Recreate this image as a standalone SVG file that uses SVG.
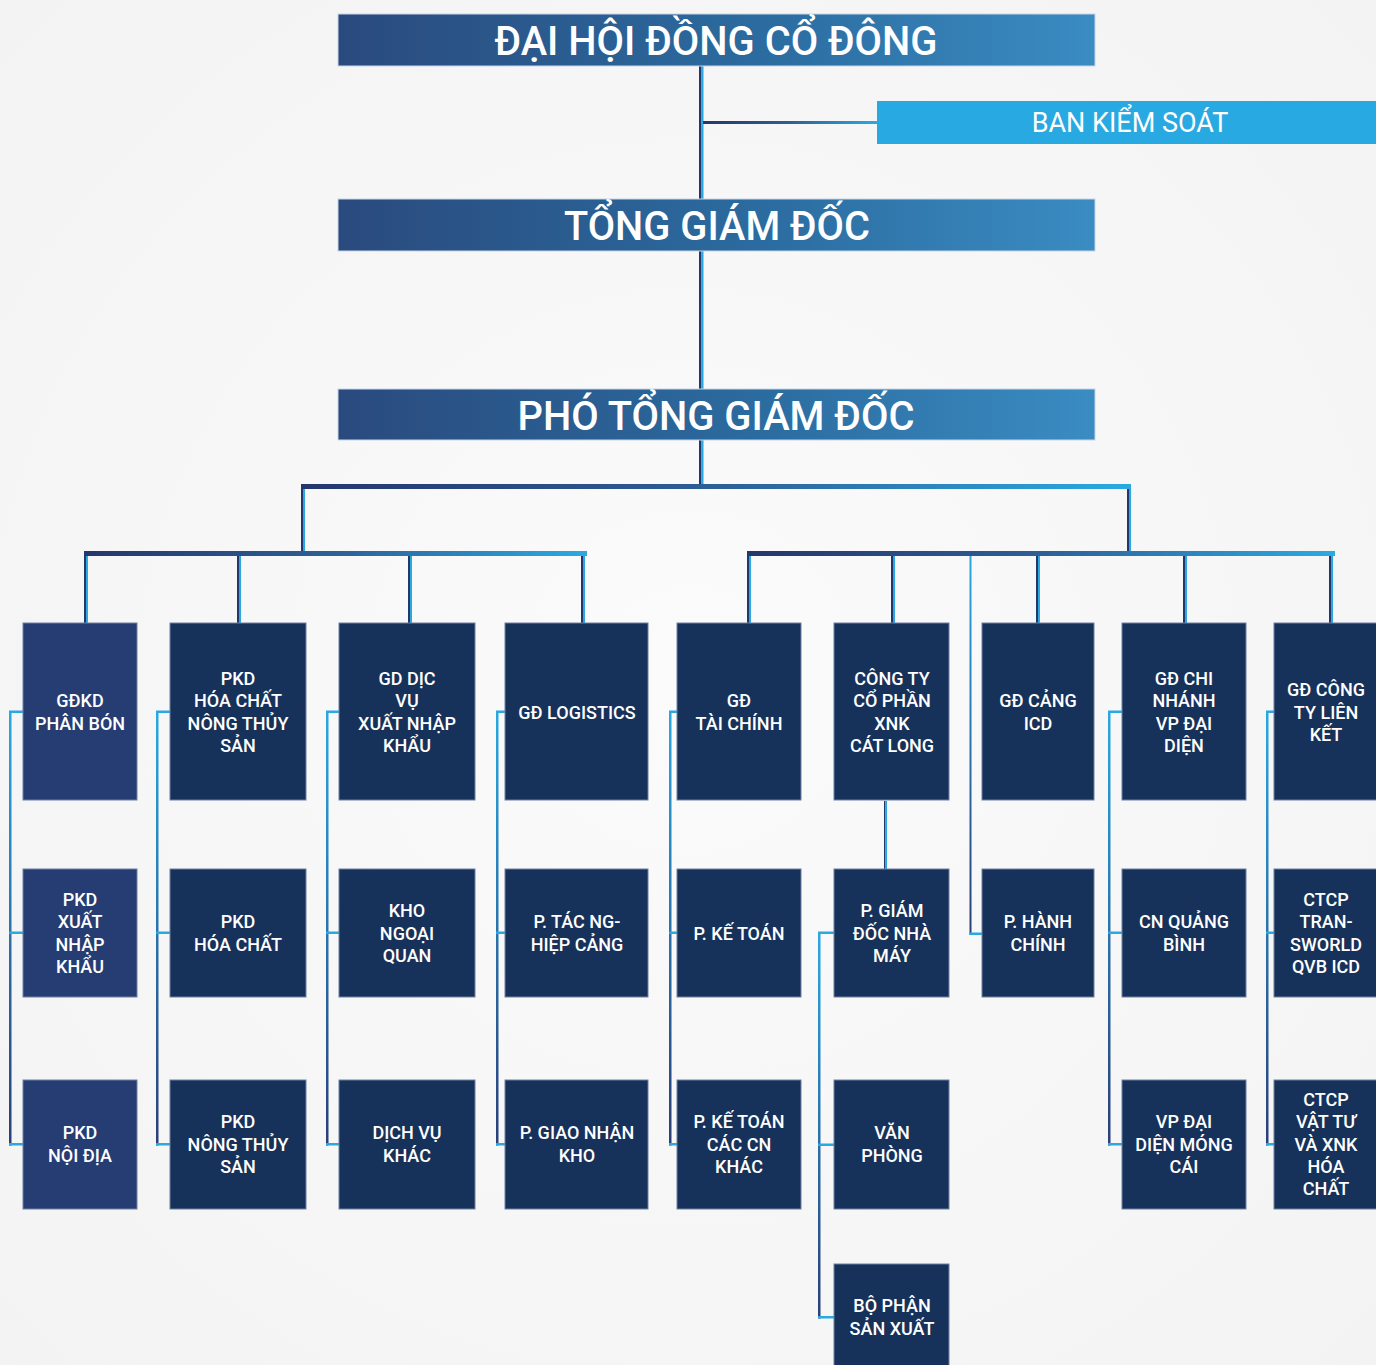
<svg xmlns="http://www.w3.org/2000/svg" width="1376" height="1365" viewBox="0 0 1376 1365">
<defs>
<linearGradient id="hdr" x1="0" y1="0" x2="1" y2="0">
<stop offset="0" stop-color="#2a4a7e"/>
<stop offset="0.55" stop-color="#2b6b9f"/>
<stop offset="1" stop-color="#3a8cc2"/>
</linearGradient>
<linearGradient id="hbar" x1="0" y1="0" x2="1" y2="0">
<stop offset="0" stop-color="#24376d"/>
<stop offset="0.5" stop-color="#2e5f97"/>
<stop offset="1" stop-color="#2aaae2"/>
</linearGradient>
<linearGradient id="vbr" x1="0" y1="0" x2="0" y2="1">
<stop offset="0" stop-color="#2aa8e0"/>
<stop offset="1" stop-color="#2a3f78"/>
</linearGradient>
<radialGradient id="bg" cx="0.5" cy="0.5" r="0.7">
<stop offset="0" stop-color="#fbfbfc"/>
<stop offset="1" stop-color="#f3f3f4"/>
</radialGradient>
</defs>
<style>
.hdr{fill:url(#hdr);stroke:#c9d6e6;stroke-width:1}
.hdrt{font-family:Roboto,"Liberation Sans",sans-serif;font-size:40px;font-weight:500;fill:#ffffff;text-anchor:middle}
.bks{fill:#29a9e1}
.bkst{font-family:Roboto,"Liberation Sans",sans-serif;font-size:27px;fill:#ffffff;text-anchor:middle}
.box{fill:#17325a;stroke:#6e80a2;stroke-width:1}
.boxa{fill:#253d73;stroke:#6e80a2;stroke-width:1}
.bt{font-family:Roboto,"Liberation Sans",sans-serif;font-size:18px;font-weight:500;fill:#ffffff;text-anchor:middle}
.dk{fill:#24376d}
.lt{fill:#2aa8e0}
.hb{fill:url(#hbar)}
.vb{fill:url(#vbr)}
</style>
<rect width="1376" height="1365" fill="url(#bg)"/>

<g id="connectors">
<rect class="dk" x="699" y="66" width="2.5" height="421"/>
<rect class="lt" x="701.5" y="66" width="2" height="421"/>
<rect class="hb" x="703" y="121" width="174" height="3"/>
<rect class="hb" x="301" y="484" width="830" height="5"/>
<rect class="dk" x="301" y="489" width="2" height="62"/>
<rect class="lt" x="303" y="489" width="2" height="62"/>
<rect class="dk" x="1127" y="489" width="2" height="62"/>
<rect class="lt" x="1129" y="489" width="2" height="62"/>
<rect class="hb" x="84" y="551" width="503" height="5"/>
<rect class="hb" x="747" y="551" width="588" height="5"/>
<rect class="dk" x="84" y="556" width="2" height="67"/><rect class="lt" x="86" y="556" width="2" height="67"/>
<rect class="dk" x="237" y="556" width="2" height="67"/><rect class="lt" x="239" y="556" width="2" height="67"/>
<rect class="dk" x="408" y="556" width="2" height="67"/><rect class="lt" x="410" y="556" width="2" height="67"/>
<rect class="dk" x="581" y="556" width="2" height="67"/><rect class="lt" x="583" y="556" width="2" height="67"/>
<rect class="dk" x="747" y="556" width="2" height="67"/><rect class="lt" x="749" y="556" width="2" height="67"/>
<rect class="dk" x="891" y="556" width="2" height="67"/><rect class="lt" x="893" y="556" width="2" height="67"/>
<rect class="dk" x="1036" y="556" width="2" height="67"/><rect class="lt" x="1038" y="556" width="2" height="67"/>
<rect class="dk" x="1183" y="556" width="2" height="67"/><rect class="lt" x="1185" y="556" width="2" height="67"/>
<rect class="dk" x="1329" y="556" width="2" height="67"/><rect class="lt" x="1331" y="556" width="2" height="67"/>
<rect class="vb" x="969.5" y="556" width="2" height="379"/>
<rect class="lt" x="969.5" y="932.5" width="12.5" height="2.5"/>
<rect class="dk" x="884" y="801" width="1.5" height="68"/><rect class="lt" x="885.5" y="801" width="1.5" height="68"/>
<rect class="vb" x="9" y="711" width="2.5" height="434.5"/>
<rect class="lt" x="9" y="710.5" width="14" height="2.5"/><rect class="lt" x="9" y="931.5" width="14" height="2.5"/><rect class="lt" x="9" y="1143" width="14" height="2.5"/>
<rect class="vb" x="156" y="711" width="2.5" height="434.5"/>
<rect class="lt" x="156" y="710.5" width="14" height="2.5"/><rect class="lt" x="156" y="931.5" width="14" height="2.5"/><rect class="lt" x="156" y="1143" width="14" height="2.5"/>
<rect class="vb" x="326" y="711" width="2.5" height="434.5"/>
<rect class="lt" x="326" y="710.5" width="13" height="2.5"/><rect class="lt" x="326" y="931.5" width="13" height="2.5"/><rect class="lt" x="326" y="1143" width="13" height="2.5"/>
<rect class="vb" x="496" y="711" width="2.5" height="434.5"/>
<rect class="lt" x="496" y="710.5" width="9" height="2.5"/><rect class="lt" x="496" y="931.5" width="9" height="2.5"/><rect class="lt" x="496" y="1143" width="9" height="2.5"/>
<rect class="vb" x="669" y="711" width="2.5" height="434.5"/>
<rect class="lt" x="669" y="710.5" width="8" height="2.5"/><rect class="lt" x="669" y="931.5" width="8" height="2.5"/><rect class="lt" x="669" y="1143" width="8" height="2.5"/>
<rect class="vb" x="818" y="932" width="2.5" height="386.5"/>
<rect class="lt" x="818" y="931.5" width="16" height="2.5"/><rect class="lt" x="818" y="1143.5" width="16" height="2.5"/><rect class="lt" x="818" y="1316" width="16" height="2.5"/>
<rect class="vb" x="1108" y="711" width="2.5" height="434.5"/>
<rect class="lt" x="1108" y="710.5" width="14" height="2.5"/><rect class="lt" x="1108" y="931.5" width="14" height="2.5"/><rect class="lt" x="1108" y="1143" width="14" height="2.5"/>
<rect class="vb" x="1266" y="711" width="2.5" height="434.5"/>
<rect class="lt" x="1266" y="710.5" width="8" height="2.5"/><rect class="lt" x="1266" y="931.5" width="8" height="2.5"/><rect class="lt" x="1266" y="1143" width="8" height="2.5"/>
</g>

<g id="dhdcd"><rect class="hdr" x="338" y="14" width="757" height="52"/><text class="hdrt" x="716" y="55" textLength="443" lengthAdjust="spacingAndGlyphs">ĐẠI HỘI ĐỒNG CỔ ĐÔNG</text></g>
<g id="bks"><rect class="bks" x="877" y="101" width="499" height="43"/><text class="bkst" x="1130" y="132">BAN KIỂM SOÁT</text></g>
<g id="tgd"><rect class="hdr" x="338" y="199" width="757" height="52"/><text class="hdrt" x="717" y="240" textLength="306" lengthAdjust="spacingAndGlyphs">TỔNG GIÁM ĐỐC</text></g>
<g id="ptgd"><rect class="hdr" x="338" y="389" width="757" height="51"/><text class="hdrt" x="716" y="430" textLength="397" lengthAdjust="spacingAndGlyphs">PHÓ TỔNG GIÁM ĐỐC</text></g>

<g id="gdkd-phan-bon"><rect class="boxa" x="23" y="623" width="114" height="177"/><text class="bt"><tspan x="80" y="707.4">GĐKD</tspan><tspan x="80" y="729.7">PHÂN BÓN</tspan></text></g>
<g id="pkd-xnk"><rect class="boxa" x="23" y="869" width="114" height="128"/><text class="bt"><tspan x="80" y="906">PKD</tspan><tspan x="80" y="928.4">XUẤT</tspan><tspan x="80" y="950.7">NHẬP</tspan><tspan x="80" y="973">KHẨU</tspan></text></g>
<g id="pkd-noi-dia"><rect class="boxa" x="23" y="1080" width="114" height="129"/><text class="bt"><tspan x="80" y="1139.4">PKD</tspan><tspan x="80" y="1161.7">NỘI ĐỊA</tspan></text></g>

<g id="pkd-hoa-chat-nts"><rect class="box" x="170" y="623" width="136" height="177"/><text class="bt"><tspan x="238" y="685">PKD</tspan><tspan x="238" y="707.4">HÓA CHẤT</tspan><tspan x="238" y="729.7">NÔNG THỦY</tspan><tspan x="238" y="752">SẢN</tspan></text></g>
<g id="pkd-hoa-chat"><rect class="box" x="170" y="869" width="136" height="128"/><text class="bt"><tspan x="238" y="928.4">PKD</tspan><tspan x="238" y="950.7">HÓA CHẤT</tspan></text></g>
<g id="pkd-nong-thuy-san"><rect class="box" x="170" y="1080" width="136" height="129"/><text class="bt"><tspan x="238" y="1128.2">PKD</tspan><tspan x="238" y="1150.5">NÔNG THỦY</tspan><tspan x="238" y="1172.8">SẢN</tspan></text></g>

<g id="gd-dich-vu-xnk"><rect class="box" x="339" y="623" width="136" height="177"/><text class="bt"><tspan x="407" y="685">GD DỊC</tspan><tspan x="407" y="707.4">VỤ</tspan><tspan x="407" y="729.7">XUẤT NHẬP</tspan><tspan x="407" y="752">KHẨU</tspan></text></g>
<g id="kho-ngoai-quan"><rect class="box" x="339" y="869" width="136" height="128"/><text class="bt"><tspan x="407" y="917.2">KHO</tspan><tspan x="407" y="939.5">NGOẠI</tspan><tspan x="407" y="961.8">QUAN</tspan></text></g>
<g id="dich-vu-khac"><rect class="box" x="339" y="1080" width="136" height="129"/><text class="bt"><tspan x="407" y="1139.4">DỊCH VỤ</tspan><tspan x="407" y="1161.7">KHÁC</tspan></text></g>

<g id="gd-logistics"><rect class="box" x="505" y="623" width="143" height="177"/><text class="bt"><tspan x="577" y="718.5">GĐ LOGISTICS</tspan></text></g>
<g id="p-tac-nghiep-cang"><rect class="box" x="505" y="869" width="143" height="128"/><text class="bt"><tspan x="577" y="928.4">P. TÁC NG-</tspan><tspan x="577" y="950.7">HIỆP CẢNG</tspan></text></g>
<g id="p-giao-nhan-kho"><rect class="box" x="505" y="1080" width="143" height="129"/><text class="bt"><tspan x="577" y="1139.4">P. GIAO NHẬN</tspan><tspan x="577" y="1161.7">KHO</tspan></text></g>

<g id="gd-tai-chinh"><rect class="box" x="677" y="623" width="124" height="177"/><text class="bt"><tspan x="739" y="707.4">GĐ</tspan><tspan x="739" y="729.7">TÀI CHÍNH</tspan></text></g>
<g id="p-ke-toan"><rect class="box" x="677" y="869" width="124" height="128"/><text class="bt"><tspan x="739" y="939.5">P. KẾ TOÁN</tspan></text></g>
<g id="p-ke-toan-cn"><rect class="box" x="677" y="1080" width="124" height="129"/><text class="bt"><tspan x="739" y="1128.2">P. KẾ TOÁN</tspan><tspan x="739" y="1150.5">CÁC CN</tspan><tspan x="739" y="1172.8">KHÁC</tspan></text></g>

<g id="cat-long"><rect class="box" x="834" y="623" width="115" height="177"/><text class="bt"><tspan x="892" y="685">CÔNG TY</tspan><tspan x="892" y="707.4">CỔ PHẦN</tspan><tspan x="892" y="729.7">XNK</tspan><tspan x="892" y="752">CÁT LONG</tspan></text></g>
<g id="p-giam-doc-nha-may"><rect class="box" x="834" y="869" width="115" height="128"/><text class="bt"><tspan x="892" y="917.2">P. GIÁM</tspan><tspan x="892" y="939.5">ĐỐC NHÀ</tspan><tspan x="892" y="961.8">MÁY</tspan></text></g>
<g id="van-phong"><rect class="box" x="834" y="1080" width="115" height="129"/><text class="bt"><tspan x="892" y="1139.4">VĂN</tspan><tspan x="892" y="1161.7">PHÒNG</tspan></text></g>
<g id="bo-phan-san-xuat"><rect class="box" x="834" y="1264" width="115" height="105"/><text class="bt"><tspan x="892" y="1312.4">BỘ PHẬN</tspan><tspan x="892" y="1334.7">SẢN XUẤT</tspan></text></g>

<g id="gd-cang-icd"><rect class="box" x="982" y="623" width="112" height="177"/><text class="bt"><tspan x="1038" y="707.4">GĐ CẢNG</tspan><tspan x="1038" y="729.7">ICD</tspan></text></g>
<g id="p-hanh-chinh"><rect class="box" x="982" y="869" width="112" height="128"/><text class="bt"><tspan x="1038" y="928.4">P. HÀNH</tspan><tspan x="1038" y="950.7">CHÍNH</tspan></text></g>

<g id="gd-chi-nhanh"><rect class="box" x="1122" y="623" width="124" height="177"/><text class="bt"><tspan x="1184" y="685">GĐ CHI</tspan><tspan x="1184" y="707.4">NHÁNH</tspan><tspan x="1184" y="729.7">VP ĐẠI</tspan><tspan x="1184" y="752">DIỆN</tspan></text></g>
<g id="cn-quang-binh"><rect class="box" x="1122" y="869" width="124" height="128"/><text class="bt"><tspan x="1184" y="928.4">CN QUẢNG</tspan><tspan x="1184" y="950.7">BÌNH</tspan></text></g>
<g id="vp-mong-cai"><rect class="box" x="1122" y="1080" width="124" height="129"/><text class="bt"><tspan x="1184" y="1128.2">VP ĐẠI</tspan><tspan x="1184" y="1150.5">DIỆN MÓNG</tspan><tspan x="1184" y="1172.8">CÁI</tspan></text></g>

<g id="gd-cong-ty-lien-ket"><rect class="box" x="1274" y="623" width="106" height="177"/><text class="bt"><tspan x="1326" y="696.2">GĐ CÔNG</tspan><tspan x="1326" y="718.5">TY LIÊN</tspan><tspan x="1326" y="740.8">KẾT</tspan></text></g>
<g id="transworld"><rect class="box" x="1274" y="869" width="106" height="128"/><text class="bt"><tspan x="1326" y="906">CTCP</tspan><tspan x="1326" y="928.4">TRAN-</tspan><tspan x="1326" y="950.7">SWORLD</tspan><tspan x="1326" y="973">QVB ICD</tspan></text></g>
<g id="vat-tu-xnk"><rect class="box" x="1274" y="1080" width="106" height="129"/><text class="bt"><tspan x="1326" y="1105.9">CTCP</tspan><tspan x="1326" y="1128.2">VẬT TƯ</tspan><tspan x="1326" y="1150.5">VÀ XNK</tspan><tspan x="1326" y="1172.8">HÓA</tspan><tspan x="1326" y="1195.1">CHẤT</tspan></text></g>
</svg>
